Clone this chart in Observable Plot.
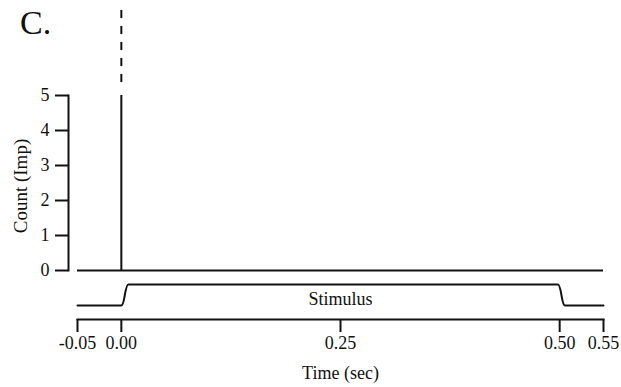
<!DOCTYPE html>
<html>
<head>
<meta charset="utf-8">
<script src="https://cdn.jsdelivr.net/npm/d3@7"></script>
<script src="https://cdn.jsdelivr.net/npm/@observablehq/plot@0.6"></script>
<style>
  body { margin: 0; background: #fff; }
  #chart { position: relative; width: 621px; height: 387px; overflow: hidden; background: #fff; }
  #title { position: absolute; left: 20px; top: 6px; font-family: "Liberation Serif", serif; font-size: 34px; line-height: 34px; color: #111; }
</style>
</head>
<body>
<div id="chart"><div id="title">C.</div></div>
<script>
// ---- data ----
const timeDomain = [-0.05, 0.55];          // sec
const binTimes = [0.0];                    // PSTH bins with non-zero counts
const binCounts = [5];
const stimOnset = 0.0;
const stimTimes = [-0.05, 0.0, 0.008, 0.498, 0.506, 0.55];
const stimLevels = [0, 0, 1, 1, 0, 0];
const xTicks = [-0.05, 0.0, 0.25, 0.5, 0.55];
const yTicks = [0, 1, 2, 3, 4, 5];
const yLabel = "Count (Imp)";
const xLabel = "Time (sec)";
const stimLabel = "Stimulus";

const bins = binTimes.map((t, i) => ({t, count: binCounts[i]}));
const stim = stimTimes.map((t, i) => ({t, level: stimLevels[i]}));

const W = 621, H = 387;
const INK = "#111";
const baseStyle = `position:absolute;left:0;top:0;background:transparent;overflow:visible;font-family:'Liberation Serif',serif;font-size:18px;color:${INK};`;

function layer(opts) {
  return Plot.plot(Object.assign({width: W, height: H, style: baseStyle}, opts));
}

const chart = document.getElementById("chart");

// Count (PSTH) panel
chart.appendChild(layer({
  marginTop: 95, marginBottom: 117, marginLeft: 68, marginRight: 18,
  x: {domain: timeDomain, range: [77, 603], axis: null},
  y: {domain: [0, 5]},
  marks: [
    Plot.frame({anchor: "left", strokeWidth: 2, stroke: INK}),
    Plot.axisY(yTicks, {tickSize: 13, tickPadding: 6, strokeWidth: 2, label: null, tickFormat: d => String(d)}),
    Plot.text([yLabel], {frameAnchor: "left", textAnchor: "middle", lineAnchor: "middle", rotate: -90, dx: -48, dy: 3, fontSize: 19, fill: INK}),
    Plot.ruleY([0], {x1: timeDomain[0], x2: timeDomain[1], strokeWidth: 2, stroke: INK}),
    Plot.ruleX(bins, {x: "t", y1: 0, y2: "count", strokeWidth: 2, stroke: INK})
  ]
}));

// Stimulus onset marker (dashed)
chart.appendChild(layer({
  marginTop: 10, marginBottom: H - 84, marginLeft: 77, marginRight: 18,
  x: {domain: timeDomain, axis: null},
  marks: [
    Plot.ruleX([stimOnset], {strokeWidth: 2, stroke: INK, strokeDasharray: "8,8"})
  ]
}));

// Stimulus trace
chart.appendChild(layer({
  marginTop: 284, marginBottom: H - 305, marginLeft: 77, marginRight: 18,
  x: {domain: timeDomain, axis: null},
  y: {domain: [0, 1], axis: null},
  marks: [
    Plot.line(stim, {x: "t", y: "level", curve: "bump-x", strokeWidth: 2, stroke: INK}),
    Plot.text([stimLabel], {frameAnchor: "top", lineAnchor: "middle", dy: 15, fontSize: 18, fill: INK})
  ]
}));

// Time axis
chart.appendChild(layer({
  marginTop: 10, marginBottom: H - 319, marginLeft: 77, marginRight: 18,
  x: {domain: timeDomain},
  marks: [
    Plot.frame({anchor: "bottom", strokeWidth: 2, stroke: INK}),
    Plot.axisX(xTicks, {tickSize: 13, tickPadding: 4, strokeWidth: 2, label: null, tickFormat: d => d.toFixed(2)}),
    Plot.text([xLabel], {frameAnchor: "bottom", lineAnchor: "middle", dy: 54, fontSize: 18, fill: INK})
  ]
}));
</script>
</body>
</html>
